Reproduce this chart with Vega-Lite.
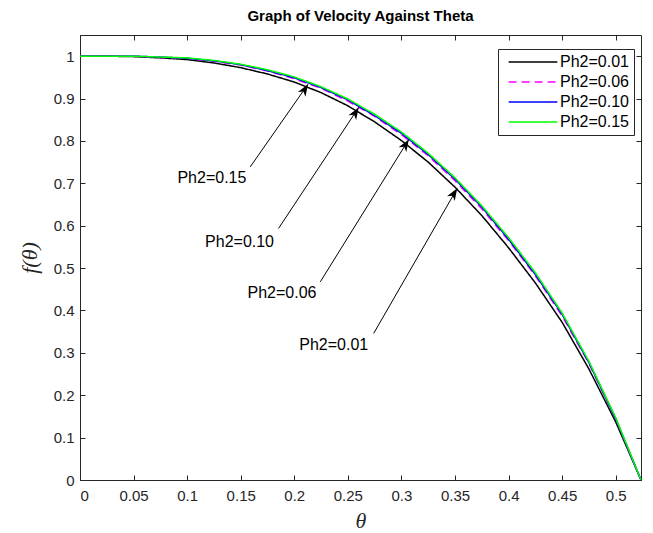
{
  "$schema": "https://vega.github.io/schema/vega-lite/v6.json",
  "width": 561,
  "height": 445,
  "autosize": {"type": "none"},
  "padding": {"left": 80, "top": 35, "right": 12, "bottom": 53},
  "background": "white",
  "title": {"text": "Graph of Velocity Against Theta", "font": "Liberation Sans", "fontSize": 15, "fontWeight": "bold", "color": "#000000", "offset": 11, "anchor": "middle"},
  "config": {
    "view": {"stroke": "#262626", "strokeWidth": 1},
    "axis": {"domainColor": "#262626", "tickColor": "#262626", "labelColor": "#262626", "labelFont": "Liberation Sans", "labelFontSize": 15, "grid": false, "tickSize": -5, "labelPadding": 13, "titleColor": "#262626"}
  },
  "datasets": {
    "curves": [
      {"theta": 0, "f": 1, "series": "Ph2=0.01"},
      {"theta": 0.025, "f": 1.0, "series": "Ph2=0.01"},
      {"theta": 0.05, "f": 0.999, "series": "Ph2=0.01"},
      {"theta": 0.075, "f": 0.996, "series": "Ph2=0.01"},
      {"theta": 0.1, "f": 0.992, "series": "Ph2=0.01"},
      {"theta": 0.125, "f": 0.984, "series": "Ph2=0.01"},
      {"theta": 0.15, "f": 0.973, "series": "Ph2=0.01"},
      {"theta": 0.175, "f": 0.958, "series": "Ph2=0.01"},
      {"theta": 0.2, "f": 0.939, "series": "Ph2=0.01"},
      {"theta": 0.225, "f": 0.914, "series": "Ph2=0.01"},
      {"theta": 0.25, "f": 0.883, "series": "Ph2=0.01"},
      {"theta": 0.275, "f": 0.845, "series": "Ph2=0.01"},
      {"theta": 0.3, "f": 0.801, "series": "Ph2=0.01"},
      {"theta": 0.325, "f": 0.75, "series": "Ph2=0.01"},
      {"theta": 0.35, "f": 0.691, "series": "Ph2=0.01"},
      {"theta": 0.375, "f": 0.624, "series": "Ph2=0.01"},
      {"theta": 0.4, "f": 0.548, "series": "Ph2=0.01"},
      {"theta": 0.425, "f": 0.465, "series": "Ph2=0.01"},
      {"theta": 0.45, "f": 0.372, "series": "Ph2=0.01"},
      {"theta": 0.475, "f": 0.262, "series": "Ph2=0.01"},
      {"theta": 0.5, "f": 0.137, "series": "Ph2=0.01"},
      {"theta": 0.5236, "f": 0, "series": "Ph2=0.01"},
      {"theta": 0, "f": 1, "series": "Ph2=0.06"},
      {"theta": 0.025, "f": 1.0, "series": "Ph2=0.06"},
      {"theta": 0.05, "f": 1.0, "series": "Ph2=0.06"},
      {"theta": 0.075, "f": 0.997, "series": "Ph2=0.06"},
      {"theta": 0.1, "f": 0.995, "series": "Ph2=0.06"},
      {"theta": 0.125, "f": 0.988, "series": "Ph2=0.06"},
      {"theta": 0.15, "f": 0.979, "series": "Ph2=0.06"},
      {"theta": 0.175, "f": 0.965, "series": "Ph2=0.06"},
      {"theta": 0.2, "f": 0.947, "series": "Ph2=0.06"},
      {"theta": 0.225, "f": 0.924, "series": "Ph2=0.06"},
      {"theta": 0.25, "f": 0.894, "series": "Ph2=0.06"},
      {"theta": 0.275, "f": 0.858, "series": "Ph2=0.06"},
      {"theta": 0.3, "f": 0.815, "series": "Ph2=0.06"},
      {"theta": 0.325, "f": 0.765, "series": "Ph2=0.06"},
      {"theta": 0.35, "f": 0.706, "series": "Ph2=0.06"},
      {"theta": 0.375, "f": 0.64, "series": "Ph2=0.06"},
      {"theta": 0.4, "f": 0.565, "series": "Ph2=0.06"},
      {"theta": 0.425, "f": 0.482, "series": "Ph2=0.06"},
      {"theta": 0.45, "f": 0.387, "series": "Ph2=0.06"},
      {"theta": 0.475, "f": 0.275, "series": "Ph2=0.06"},
      {"theta": 0.5, "f": 0.144, "series": "Ph2=0.06"},
      {"theta": 0.5236, "f": 0, "series": "Ph2=0.06"},
      {"theta": 0, "f": 1, "series": "Ph2=0.10"},
      {"theta": 0.025, "f": 1.0, "series": "Ph2=0.10"},
      {"theta": 0.05, "f": 1.0, "series": "Ph2=0.10"},
      {"theta": 0.075, "f": 0.998, "series": "Ph2=0.10"},
      {"theta": 0.1, "f": 0.995, "series": "Ph2=0.10"},
      {"theta": 0.125, "f": 0.989, "series": "Ph2=0.10"},
      {"theta": 0.15, "f": 0.98, "series": "Ph2=0.10"},
      {"theta": 0.175, "f": 0.966, "series": "Ph2=0.10"},
      {"theta": 0.2, "f": 0.949, "series": "Ph2=0.10"},
      {"theta": 0.225, "f": 0.926, "series": "Ph2=0.10"},
      {"theta": 0.25, "f": 0.897, "series": "Ph2=0.10"},
      {"theta": 0.275, "f": 0.86, "series": "Ph2=0.10"},
      {"theta": 0.3, "f": 0.818, "series": "Ph2=0.10"},
      {"theta": 0.325, "f": 0.768, "series": "Ph2=0.10"},
      {"theta": 0.35, "f": 0.71, "series": "Ph2=0.10"},
      {"theta": 0.375, "f": 0.644, "series": "Ph2=0.10"},
      {"theta": 0.4, "f": 0.568, "series": "Ph2=0.10"},
      {"theta": 0.425, "f": 0.485, "series": "Ph2=0.10"},
      {"theta": 0.45, "f": 0.391, "series": "Ph2=0.10"},
      {"theta": 0.475, "f": 0.277, "series": "Ph2=0.10"},
      {"theta": 0.5, "f": 0.145, "series": "Ph2=0.10"},
      {"theta": 0.5236, "f": 0, "series": "Ph2=0.10"},
      {"theta": 0, "f": 1, "series": "Ph2=0.15"},
      {"theta": 0.025, "f": 1.0, "series": "Ph2=0.15"},
      {"theta": 0.05, "f": 1.0, "series": "Ph2=0.15"},
      {"theta": 0.075, "f": 0.998, "series": "Ph2=0.15"},
      {"theta": 0.1, "f": 0.996, "series": "Ph2=0.15"},
      {"theta": 0.125, "f": 0.99, "series": "Ph2=0.15"},
      {"theta": 0.15, "f": 0.981, "series": "Ph2=0.15"},
      {"theta": 0.175, "f": 0.968, "series": "Ph2=0.15"},
      {"theta": 0.2, "f": 0.951, "series": "Ph2=0.15"},
      {"theta": 0.225, "f": 0.928, "series": "Ph2=0.15"},
      {"theta": 0.25, "f": 0.899, "series": "Ph2=0.15"},
      {"theta": 0.275, "f": 0.863, "series": "Ph2=0.15"},
      {"theta": 0.3, "f": 0.821, "series": "Ph2=0.15"},
      {"theta": 0.325, "f": 0.771, "series": "Ph2=0.15"},
      {"theta": 0.35, "f": 0.713, "series": "Ph2=0.15"},
      {"theta": 0.375, "f": 0.647, "series": "Ph2=0.15"},
      {"theta": 0.4, "f": 0.572, "series": "Ph2=0.15"},
      {"theta": 0.425, "f": 0.489, "series": "Ph2=0.15"},
      {"theta": 0.45, "f": 0.394, "series": "Ph2=0.15"},
      {"theta": 0.475, "f": 0.28, "series": "Ph2=0.15"},
      {"theta": 0.5, "f": 0.147, "series": "Ph2=0.15"},
      {"theta": 0.5236, "f": 0, "series": "Ph2=0.15"}
    ],
    "arrows": [
      {"label": "Ph2=0.15", "x0": 0.1589, "y0": 0.7389, "x1": 0.2128, "y1": 0.934, "tx": 0.1231, "ty": 0.7115},
      {"label": "Ph2=0.10", "x0": 0.1853, "y0": 0.5936, "x1": 0.2601, "y1": 0.879, "tx": 0.1489, "ty": 0.562},
      {"label": "Ph2=0.06", "x0": 0.2243, "y0": 0.4677, "x1": 0.3069, "y1": 0.8035, "tx": 0.1885, "ty": 0.4417},
      {"label": "Ph2=0.01", "x0": 0.2741, "y0": 0.3459, "x1": 0.3521, "y1": 0.6882, "tx": 0.2368, "ty": 0.3184}
    ]
  },
  "resolve": {"axis": {"x": "independent", "y": "independent"}},
  "layer": [
    {
      "data": {"name": "curves"},
      "mark": {"type": "line", "strokeWidth": 1.5},
      "encoding": {
        "x": {"field": "theta", "type": "quantitative", "scale": {"domain": [0, 0.5236], "nice": false, "zero": false},
          "axis": {"orient": "bottom", "values": [0, 0.05, 0.1, 0.15, 0.2, 0.25, 0.3, 0.35, 0.4, 0.45, 0.5], "format": "~g", "title": "θ", "titleFont": "Liberation Serif", "titleFontStyle": "italic", "titleFontWeight": "normal", "titleFontSize": 22, "titlePadding": 7}},
        "y": {"field": "f", "type": "quantitative", "scale": {"domain": [0, 1.05], "nice": false, "zero": false},
          "axis": {"orient": "left", "values": [0, 0.1, 0.2, 0.3, 0.4, 0.5, 0.6, 0.7, 0.8, 0.9, 1], "format": "~g", "labelPadding": 11, "title": "f(θ)", "titleFont": "Liberation Serif", "titleFontStyle": "italic", "titleFontWeight": "normal", "titleFontSize": 22, "titlePadding": 12}},
        "color": {"field": "series", "type": "nominal", "title": null,
          "scale": {"domain": ["Ph2=0.01", "Ph2=0.06", "Ph2=0.10", "Ph2=0.15"], "range": ["#000000", "#FF00FF", "#0000FF", "#00FF00"]},
          "legend": {"orient": "none", "legendX": 418, "legendY": 14, "symbolType": "M-15,0 H15", "symbolSize": 10.56, "symbolStrokeWidth": 1.5, "symbolOffset": 22, "labelOffset": 19, "labelFont": "Liberation Sans", "labelFontSize": 16, "labelColor": "#000000", "rowPadding": 4, "padding": 5, "strokeColor": "#262626", "fillColor": "white"}},
        "strokeDash": {"field": "series", "type": "nominal", "title": null,
          "scale": {"domain": ["Ph2=0.01", "Ph2=0.06", "Ph2=0.10", "Ph2=0.15"], "range": [[1, 0], [8, 5], [1, 0], [1, 0]]}}
      }
    },
    {
      "data": {"name": "curves"},
      "mark": {"type": "line", "strokeOpacity": 0},
      "encoding": {
        "x": {"field": "theta", "type": "quantitative", "scale": {"domain": [0, 0.5236], "nice": false, "zero": false},
          "axis": {"orient": "top", "values": [0, 0.05, 0.1, 0.15, 0.2, 0.25, 0.3, 0.35, 0.4, 0.45, 0.5], "labels": false, "title": null, "domain": false}},
        "y": {"field": "f", "type": "quantitative", "scale": {"domain": [0, 1.05], "nice": false, "zero": false},
          "axis": {"orient": "right", "values": [0, 0.1, 0.2, 0.3, 0.4, 0.5, 0.6, 0.7, 0.8, 0.9, 1], "labels": false, "title": null, "domain": false}}
      }
    },
    {
      "data": {"name": "arrows"},
      "mark": {"type": "rule", "color": "#000000", "strokeWidth": 1},
      "encoding": {
        "x": {"field": "x0", "type": "quantitative", "scale": {"domain": [0, 0.5236], "nice": false, "zero": false}, "axis": null},
        "y": {"field": "y0", "type": "quantitative", "scale": {"domain": [0, 1.05], "nice": false, "zero": false}, "axis": null},
        "x2": {"field": "x1"},
        "y2": {"field": "y1"}
      }
    },
    {
      "data": {"name": "arrows"},
      "mark": {"type": "point", "shape": "M0,0 L0.6,1.6 L0,1.15 L-0.6,1.6 Z", "filled": true, "color": "#000000", "opacity": 1, "size": 225, "angle": 32, "strokeWidth": 0},
      "encoding": {
        "x": {"field": "x1", "type": "quantitative", "scale": {"domain": [0, 0.5236], "nice": false, "zero": false}, "axis": null},
        "y": {"field": "y1", "type": "quantitative", "scale": {"domain": [0, 1.05], "nice": false, "zero": false}, "axis": null}
      }
    },
    {
      "data": {"name": "arrows"},
      "mark": {"type": "text", "font": "Liberation Sans", "fontSize": 16, "color": "#000000", "align": "center", "baseline": "middle"},
      "encoding": {
        "x": {"field": "tx", "type": "quantitative", "scale": {"domain": [0, 0.5236], "nice": false, "zero": false}, "axis": null},
        "y": {"field": "ty", "type": "quantitative", "scale": {"domain": [0, 1.05], "nice": false, "zero": false}, "axis": null},
        "text": {"field": "label"}
      }
    }
  ]
}
